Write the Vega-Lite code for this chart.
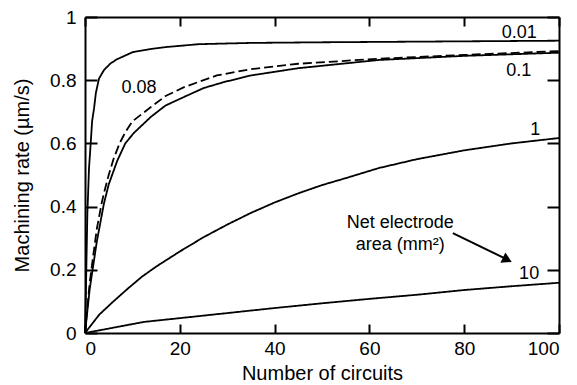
{
  "$schema": "https://vega.github.io/schema/vega-lite/v6.json",
  "width": 474,
  "height": 316,
  "autosize": {"type": "none"},
  "padding": {"left": 85, "top": 17, "right": 18, "bottom": 52},
  "background": "white",
  "config": {
    "view": {"stroke": null},
    "font": "Liberation Sans",
    "axis": {
      "domainColor": "black",
      "domainWidth": 2,
      "tickColor": "black",
      "tickWidth": 2,
      "grid": false,
      "labelFont": "Liberation Sans",
      "labelFontSize": 19,
      "labelColor": "black",
      "titleFont": "Liberation Sans",
      "titleFontSize": 20,
      "titleFontWeight": "normal",
      "titleColor": "black"
    }
  },
  "datasets": {
    "curves": [
      {"area": "0.01", "n": 0, "rate": 0},
      {"area": "0.01", "n": 0.15, "rate": 0.1},
      {"area": "0.01", "n": 0.3, "rate": 0.22},
      {"area": "0.01", "n": 0.5, "rate": 0.38},
      {"area": "0.01", "n": 0.63, "rate": 0.43},
      {"area": "0.01", "n": 0.84, "rate": 0.52},
      {"area": "0.01", "n": 1.2, "rate": 0.6},
      {"area": "0.01", "n": 1.5, "rate": 0.67},
      {"area": "0.01", "n": 1.9, "rate": 0.71},
      {"area": "0.01", "n": 2.3, "rate": 0.76},
      {"area": "0.01", "n": 2.95, "rate": 0.805},
      {"area": "0.01", "n": 4, "rate": 0.832},
      {"area": "0.01", "n": 5.3, "rate": 0.852},
      {"area": "0.01", "n": 6.7, "rate": 0.866},
      {"area": "0.01", "n": 8.5, "rate": 0.878},
      {"area": "0.01", "n": 10.1, "rate": 0.889},
      {"area": "0.01", "n": 14, "rate": 0.899},
      {"area": "0.01", "n": 17.2, "rate": 0.905},
      {"area": "0.01", "n": 24, "rate": 0.914},
      {"area": "0.01", "n": 35, "rate": 0.918},
      {"area": "0.01", "n": 50, "rate": 0.92},
      {"area": "0.01", "n": 70, "rate": 0.922},
      {"area": "0.01", "n": 100, "rate": 0.925},

      {"area": "0.08", "n": 0, "rate": 0},
      {"area": "0.08", "n": 0.5, "rate": 0.08},
      {"area": "0.08", "n": 1, "rate": 0.16},
      {"area": "0.08", "n": 1.6, "rate": 0.23},
      {"area": "0.08", "n": 2.5, "rate": 0.33},
      {"area": "0.08", "n": 3.5, "rate": 0.41},
      {"area": "0.08", "n": 4, "rate": 0.443},
      {"area": "0.08", "n": 5, "rate": 0.5},
      {"area": "0.08", "n": 6, "rate": 0.55},
      {"area": "0.08", "n": 7.3, "rate": 0.6},
      {"area": "0.08", "n": 8.5, "rate": 0.635},
      {"area": "0.08", "n": 10, "rate": 0.67},
      {"area": "0.08", "n": 13.9, "rate": 0.715},
      {"area": "0.08", "n": 17, "rate": 0.75},
      {"area": "0.08", "n": 20.9, "rate": 0.778},
      {"area": "0.08", "n": 27.8, "rate": 0.815},
      {"area": "0.08", "n": 35, "rate": 0.835},
      {"area": "0.08", "n": 45, "rate": 0.852},
      {"area": "0.08", "n": 62, "rate": 0.868},
      {"area": "0.08", "n": 80, "rate": 0.88},
      {"area": "0.08", "n": 100, "rate": 0.892},

      {"area": "0.1", "n": 0, "rate": 0},
      {"area": "0.1", "n": 0.5, "rate": 0.07},
      {"area": "0.1", "n": 1, "rate": 0.14},
      {"area": "0.1", "n": 1.6, "rate": 0.2},
      {"area": "0.1", "n": 2.5, "rate": 0.29},
      {"area": "0.1", "n": 4, "rate": 0.41},
      {"area": "0.1", "n": 5, "rate": 0.47},
      {"area": "0.1", "n": 6.8, "rate": 0.545},
      {"area": "0.1", "n": 8.5, "rate": 0.6},
      {"area": "0.1", "n": 10.3, "rate": 0.633},
      {"area": "0.1", "n": 13.9, "rate": 0.684},
      {"area": "0.1", "n": 17, "rate": 0.72},
      {"area": "0.1", "n": 20.9, "rate": 0.747},
      {"area": "0.1", "n": 25, "rate": 0.775},
      {"area": "0.1", "n": 29.3, "rate": 0.794},
      {"area": "0.1", "n": 35, "rate": 0.815},
      {"area": "0.1", "n": 45, "rate": 0.838},
      {"area": "0.1", "n": 62, "rate": 0.864},
      {"area": "0.1", "n": 80, "rate": 0.877},
      {"area": "0.1", "n": 100, "rate": 0.887},

      {"area": "1", "n": 0, "rate": 0},
      {"area": "1", "n": 3, "rate": 0.058},
      {"area": "1", "n": 6, "rate": 0.1},
      {"area": "1", "n": 9, "rate": 0.14},
      {"area": "1", "n": 12, "rate": 0.178},
      {"area": "1", "n": 15, "rate": 0.21},
      {"area": "1", "n": 20, "rate": 0.258},
      {"area": "1", "n": 25, "rate": 0.303},
      {"area": "1", "n": 30, "rate": 0.343},
      {"area": "1", "n": 35, "rate": 0.38},
      {"area": "1", "n": 40, "rate": 0.413},
      {"area": "1", "n": 45, "rate": 0.442},
      {"area": "1", "n": 50, "rate": 0.468},
      {"area": "1", "n": 55, "rate": 0.49},
      {"area": "1", "n": 62, "rate": 0.522},
      {"area": "1", "n": 70, "rate": 0.55},
      {"area": "1", "n": 80, "rate": 0.578},
      {"area": "1", "n": 90, "rate": 0.6},
      {"area": "1", "n": 100, "rate": 0.617},

      {"area": "10", "n": 0, "rate": 0},
      {"area": "10", "n": 5, "rate": 0.014},
      {"area": "10", "n": 12.4, "rate": 0.035},
      {"area": "10", "n": 20, "rate": 0.047},
      {"area": "10", "n": 30, "rate": 0.063},
      {"area": "10", "n": 40, "rate": 0.079},
      {"area": "10", "n": 50, "rate": 0.094},
      {"area": "10", "n": 60, "rate": 0.108},
      {"area": "10", "n": 70, "rate": 0.121},
      {"area": "10", "n": 80, "rate": 0.136},
      {"area": "10", "n": 90, "rate": 0.148},
      {"area": "10", "n": 100, "rate": 0.159}
    ],
    "labels": [
      {"n": 91.6, "rate": 0.949, "text": "0.01"},
      {"n": 91.5, "rate": 0.828, "text": "0.1"},
      {"n": 11.4, "rate": 0.775, "text": "0.08"},
      {"n": 95, "rate": 0.643, "text": "1"},
      {"n": 93.7, "rate": 0.187, "text": "10"},
      {"n": 66.5, "rate": 0.348, "text": "Net electrode"},
      {"n": 66.5, "rate": 0.278, "text": "area (mm²)"}
    ],
    "arrow": [
      {"n": 77.6, "rate": 0.316, "n2": 88.6, "rate2": 0.236}
    ],
    "head": [
      {"n": 89.1, "rate": 0.2316}
    ]
  },
  "layer": [
    {
      "data": {"name": "curves"},
      "mark": {"type": "line", "color": "black", "strokeWidth": 1.8},
      "encoding": {
        "x": {
          "field": "n", "type": "quantitative",
          "scale": {"domain": [0, 100], "nice": false, "zero": false},
          "axis": {
            "orient": "bottom",
            "values": [0, 20, 40, 60, 80, 100],
            "tickSize": -9,
            "labelPadding": 15,
            "title": "Number of circuits",
            "titleX": 237,
            "titleY": 40,
            "titleBaseline": "middle"
          }
        },
        "y": {
          "field": "rate", "type": "quantitative",
          "scale": {"domain": [0, 1], "nice": false},
          "axis": {
            "orient": "left",
            "values": [0, 0.2, 0.4, 0.6, 0.8, 1],
            "format": "~g",
            "tickSize": -12,
            "labelPadding": 21,
            "title": "Machining rate (µm/s)",
            "titleX": -63,
            "titleY": 158,
            "titleBaseline": "middle"
          }
        },
        "detail": {"field": "area", "type": "nominal"},
        "strokeDash": {
          "field": "area", "type": "nominal",
          "scale": {"domain": ["0.01", "0.08", "0.1", "1", "10"], "range": [[1, 0], [9, 4], [1, 0], [1, 0], [1, 0]]},
          "legend": null
        }
      }
    },
    {
      "data": {"name": "labels"},
      "mark": {"type": "text", "font": "Liberation Sans", "fontSize": 18, "color": "black", "align": "center", "baseline": "middle"},
      "encoding": {
        "x": {
          "field": "n", "type": "quantitative",
          "axis": {"orient": "top", "values": [0, 20, 40, 60, 80, 100], "tickSize": -9, "labels": false, "title": null}
        },
        "y": {
          "field": "rate", "type": "quantitative",
          "axis": {"orient": "right", "values": [0, 0.2, 0.4, 0.6, 0.8, 1], "tickSize": -12, "labels": false, "title": null}
        },
        "text": {"field": "text", "type": "nominal"}
      }
    },
    {
      "data": {"name": "arrow"},
      "mark": {"type": "rule", "color": "black", "strokeWidth": 2},
      "encoding": {
        "x": {"field": "n", "type": "quantitative", "axis": null},
        "y": {"field": "rate", "type": "quantitative", "axis": null},
        "x2": {"field": "n2"},
        "y2": {"field": "rate2"}
      }
    },
    {
      "data": {"name": "head"},
      "mark": {"type": "point", "shape": "triangle-right", "filled": true, "color": "black", "opacity": 1, "size": 130, "angle": 25.8},
      "encoding": {
        "x": {"field": "n", "type": "quantitative", "axis": null},
        "y": {"field": "rate", "type": "quantitative", "axis": null}
      }
    }
  ],
  "resolve": {"axis": {"x": "independent", "y": "independent"}}
}
